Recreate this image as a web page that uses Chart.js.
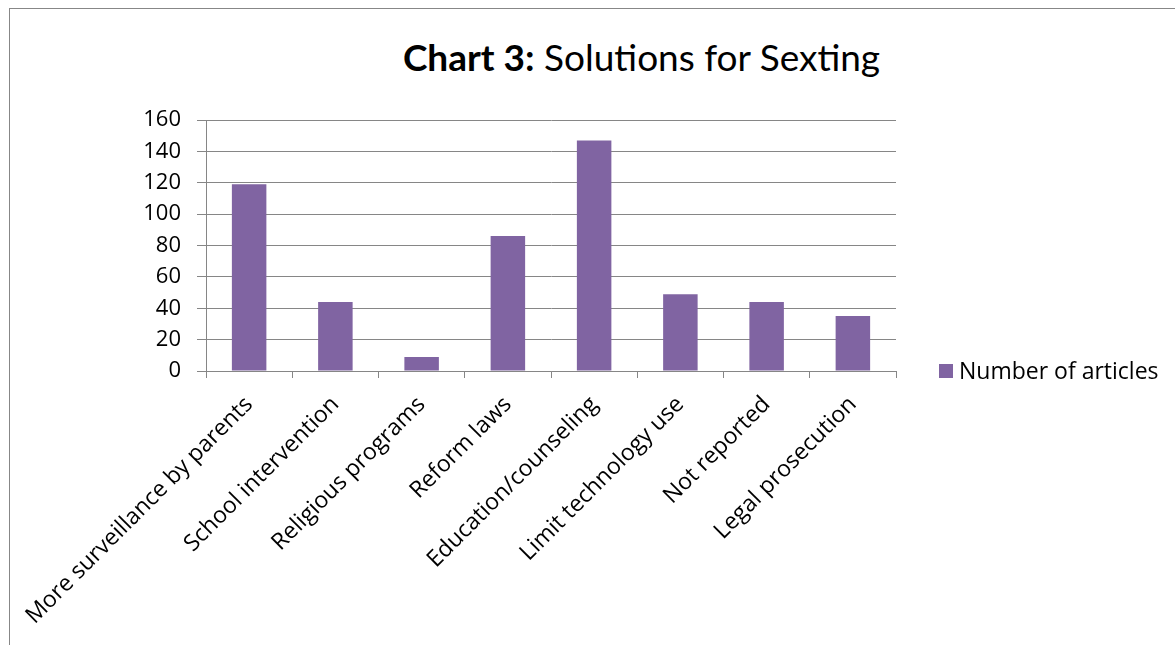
<!DOCTYPE html>
<html>
<head>
<meta charset="utf-8">
<script src="https://cdn.jsdelivr.net/npm/chart.js@4.4.0/dist/chart.umd.min.js"></script>
<style>
  html, body { margin: 0; padding: 0; background: #fff; }
  #wrap { position: relative; width: 1175px; height: 645px; overflow: hidden; }
  #frame { position: absolute; left: 9px; top: 8px; width: 1300px; height: 800px;
           border-left: 1px solid #878787; border-top: 1px solid #878787; }
  #title { position: absolute; left: 0; top: 34px; width: 1283px; text-align: center;
           font-family: Lato, sans-serif; font-size: 37px; color: #000; white-space: nowrap; }
  canvas { position: absolute; left: 0; top: 0; }
</style>
</head>
<body>
<div id="wrap">
  <div id="frame"></div>
  <div id="title"><b>Chart 3:</b> Solutions for Sexting</div>
  <canvas id="chart" width="1175" height="645"></canvas>
</div>
<script>
// values
const categories = [
  "More surveillance by parents",
  "School intervention",
  "Religious programs",
  "Reform laws",
  "Education/counseling",
  "Limit technology use",
  "Not reported",
  "Legal prosecution"
]
const articles   = [119, 44, 9, 86, 147, 49, 44, 35]
const seriesName = "Number of articles"
const yTicks     = [0, 20, 40, 60, 80, 100, 120, 140, 160]

const PURPLE = "#8064A2"
const GRID   = "#868686"
const FONT   = "'Open Sans', sans-serif"

// legend sits to the right of the plot, level with the zero line
const sideLegend = {
  id: "sideLegend",
  afterDraw(chart) {
    const { ctx, chartArea, scales } = chart
    const ds = chart.data.datasets[0]
    const x  = chartArea.right + 43
    const y  = scales.y.getPixelForValue(0)
    ctx.save()
    ctx.fillStyle = ds.backgroundColor
    ctx.fillRect(x, y - 7, 14, 14)
    ctx.fillStyle = "#000"
    ctx.font = "23px " + FONT
    ctx.textBaseline = "middle"
    ctx.fillText(ds.label, x + 20, y + 1)
    ctx.restore()
  }
}

new Chart(document.getElementById("chart"), {
  type: "bar",
  data: {
    labels: categories,
    datasets: [{
      label: seriesName,
      data: articles,
      backgroundColor: PURPLE,
      borderWidth: 0,
      barPercentage: 0.4,
      categoryPercentage: 1.0
    }]
  },
  options: {
    responsive: false,
    animation: false,
    layout: { padding: { top: 120, right: 279, left: 0, bottom: 0 } },
    plugins: {
      legend:  { display: false },
      title:   { display: false },
      tooltip: { enabled: false }
    },
    scales: {
      x: {
        afterFit: s => { s.height = 274 },
        grid:   { offset: true, drawOnChartArea: false, color: GRID, tickLength: 7, lineWidth: 1 },
        border: { color: GRID, width: 1 },
        ticks:  { color: "#000", font: { family: FONT, size: 23 }, minRotation: 45, maxRotation: 45, padding: 13, autoSkip: false }
      },
      y: {
        min: 0,
        max: 160,
        afterFit: s => { s.width = 206 },
        afterBuildTicks: s => { s.ticks = yTicks.map(v => ({ value: v })) },
        grid:   { color: GRID, tickLength: 9, lineWidth: 1 },
        border: { color: GRID, width: 1 },
        ticks:  { color: "#000", font: { family: FONT, size: 22 }, padding: 16 }
      }
    }
  },
  plugins: [sideLegend]
})
</script>
</body>
</html>
